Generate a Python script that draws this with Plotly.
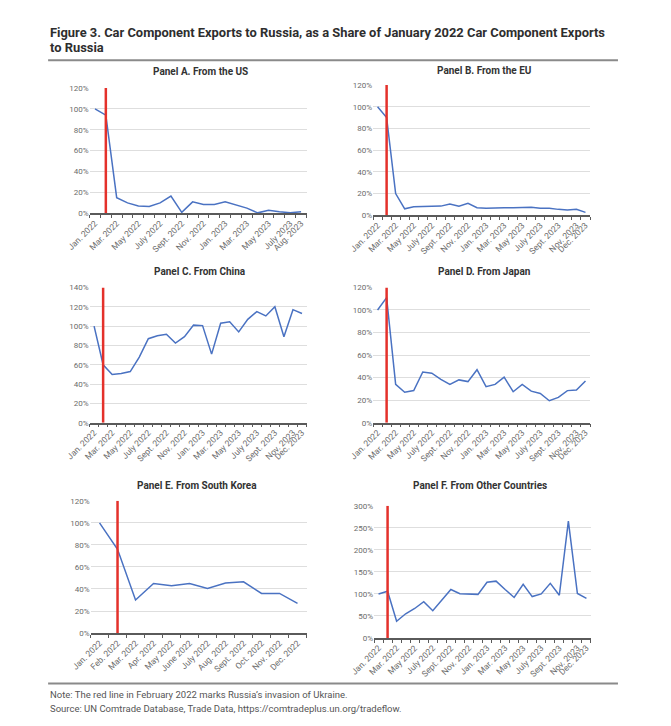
import plotly.graph_objects as go

W, H = 671, 726

# ---------------- data ----------------
months_22_23 = ["Jan. 2022", "Feb. 2022", "Mar. 2022", "Apr. 2022", "May 2022", "June 2022",
                "July 2022", "Aug. 2022", "Sept. 2022", "Oct. 2022", "Nov. 2022", "Dec. 2022",
                "Jan. 2023", "Feb. 2023", "Mar. 2023", "Apr. 2023", "May 2023", "June 2023",
                "July 2023", "Aug. 2023", "Sept. 2023", "Oct. 2023", "Nov. 2023", "Dec. 2023"]

us_values = [100, 94, 15, 10, 7, 6.5, 10, 16.5, 1, 11, 8.5, 8.5,
             11, 8, 5, 0.5, 3, 1.5, 0.5, 1.5]
eu_values = [100, 90, 20, 6, 8, 8, 8, 8.5, 10.5, 8.5, 11, 7,
             6.5, 7, 7, 7, 7, 7.5, 6.5, 6.5, 5.5, 5, 5.5, 2.7]
china_values = [100, 60, 50, 51, 53, 68, 87, 90, 91.5, 82.5, 89, 101,
                100.5, 71, 103, 104.5, 94, 107, 115, 110.5, 120, 89, 117, 113]
japan_values = [100, 111, 34, 27, 28.5, 45, 44, 38.5, 34, 38, 36.5, 47,
                32, 34, 40.5, 27.5, 34, 28, 26, 19.5, 22.5, 28.5, 29, 37]
korea_values = [100, 76, 30, 45, 43, 45, 40.5, 45.5, 46.5, 36, 36, 27]
other_values = [100, 106, 38, 55, 67, 82.5, 62, 86, 110, 100.5, 100.5, 99,
                126.5, 129, 110, 92, 122, 94, 100, 124, 97, 265, 101, 90]

panel_titles = ["Panel A. From the US", "Panel B. From the EU", "Panel C. From China",
                "Panel D. From Japan", "Panel E. From South Korea", "Panel F. From Other Countries"]
series = [us_values, eu_values, china_values, japan_values, korea_values, other_values]
y_max = [120, 120, 140, 120, 120, 300]
y_step = [20, 20, 20, 20, 20, 50]

tick_idx_us = [0, 2, 4, 6, 8, 10, 12, 14, 16, 18, 19]
tick_idx_long = [0, 2, 4, 6, 8, 10, 12, 14, 16, 18, 20, 22, 23]
tick_idx_korea = list(range(12))
tick_indices = [tick_idx_us, tick_idx_long, tick_idx_long, tick_idx_long, tick_idx_korea, tick_idx_long]

invasion_idx = 1  # February 2022

# ---------------- layout (pixel boxes of plot areas) ----------------
boxes = [  # x0, x1, ytop, ybottom in pixels
    (68, 293, 85, 212),
    (362, 587, 82, 214),
    (68, 293, 287, 424),
    (362, 587, 287, 424),
    (69, 293, 503, 637),
    (363, 588, 508, 642),
]
title_pos = [(183, 68), (478, 67), (183, 271), (478, 271), (179, 488), (473, 488)]

BLUE = "#4a72c2"
RED = "#e4312b"
FONT = "Roboto"
TICKC = "#6b6b6b"

fig = go.Figure()
layout = dict(
    width=W, height=H, margin=dict(l=0, r=0, t=0, b=0),
    paper_bgcolor="white", plot_bgcolor="white", showlegend=False,
    font=dict(family=FONT, color=TICKC),
)
shapes = []
annotations = []

for i, vals in enumerate(series):
    n = i + 1
    xa = "x" if n == 1 else f"x{n}"
    ya = "y" if n == 1 else f"y{n}"
    xk = "xaxis" if n == 1 else f"xaxis{n}"
    yk = "yaxis" if n == 1 else f"yaxis{n}"
    x0, x1, yt, yb = boxes[i]
    npts = len(vals)
    fig.add_trace(go.Scatter(
        x=list(range(npts)), y=vals, mode="lines",
        line=dict(color=BLUE, width=1.5), xaxis=xa, yaxis=ya, hoverinfo="skip"))
    # red invasion line
    fig.add_trace(go.Scatter(
        x=[invasion_idx, invasion_idx], y=[0, y_max[i]], mode="lines",
        line=dict(color=RED, width=2.5), xaxis=xa, yaxis=ya, hoverinfo="skip"))
    layout[xk] = dict(
        domain=[x0 / W, x1 / W], anchor=ya, range=[-0.5, npts - 0.5],
        tickmode="array", tickvals=tick_indices[i],
        ticktext=[months_22_23[k] for k in tick_indices[i]],
        tickangle=-45, tickfont=dict(size=8.5, color=TICKC, family=FONT),
        showgrid=False, zeroline=False, showline=True, linecolor="#5a5a5a", linewidth=1.5,
        ticks="", fixedrange=True,
        minor=dict(ticks="outside", tickmode="linear", tick0=-0.5, dtick=1,
                   ticklen=3, tickcolor="#5a5a5a", tickwidth=1, showgrid=False),
    )
    layout[yk] = dict(
        domain=[1 - yb / H, 1 - yt / H], anchor=xa, range=[0, y_max[i]],
        tickmode="linear", tick0=0, dtick=y_step[i], ticksuffix="%",
        tickfont=dict(size=8, color=TICKC, family=FONT),
        showgrid=True, gridcolor="#dedede", gridwidth=1, zeroline=False,
        showline=False, ticks="", fixedrange=True,
    )
    tx, ty = title_pos[i]
    annotations.append(dict(
        text=f"<b>{panel_titles[i]}</b>", x=tx / W, y=1 - ty / H, xref="paper", yref="paper",
        xanchor="center", yanchor="middle", showarrow=False,
        font=dict(size=10, color="#333333", family=FONT)))

# Figure title
annotations.append(dict(
    text="<b>Figure 3. Car Component Exports to Russia, as a Share of January 2022 Car Component Exports</b>",
    x=25 / W, y=1 - 29 / H, xref="paper", yref="paper", xanchor="left", yanchor="middle",
    showarrow=False, font=dict(size=12.9, color="#2e2e2e", family=FONT)))
annotations.append(dict(
    text="<b>to Russia</b>",
    x=25 / W, y=1 - 44 / H, xref="paper", yref="paper", xanchor="left", yanchor="middle",
    showarrow=False, font=dict(size=12.9, color="#2e2e2e", family=FONT)))

# Footer
annotations.append(dict(
    text="Note: The red line in February 2022 marks Russia’s invasion of Ukraine.",
    x=25 / W, y=1 - 699 / H, xref="paper", yref="paper", xanchor="left", yanchor="middle",
    showarrow=False, font=dict(size=9.5, color="#555555", family=FONT)))
annotations.append(dict(
    text="Source: UN Comtrade Database, Trade Data, https://comtradeplus.un.org/tradeflow.",
    x=25 / W, y=1 - 713 / H, xref="paper", yref="paper", xanchor="left", yanchor="middle",
    showarrow=False, font=dict(size=9.5, color="#555555", family=FONT)))

# Rules
for ry in (57, 688):
    shapes.append(dict(type="line", xref="paper", yref="paper",
                       x0=25 / W, x1=616 / W, y0=1 - ry / H, y1=1 - ry / H,
                       line=dict(color="#8a8a8a", width=2)))

layout["shapes"] = shapes
layout["annotations"] = annotations
fig.update_layout(**layout)
fig.write_html("out.html", config={"displayModeBar": False},
               post_script="document.body.style.margin='0';document.body.style.overflow='hidden';")
